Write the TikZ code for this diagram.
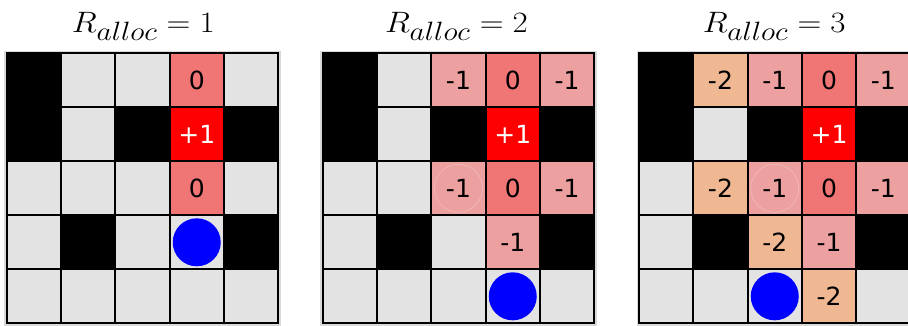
\RequirePackage{fix-cm}
\documentclass[tikz,border=0pt]{standalone}
\usepackage{fontspec}
\newfontfamily\numfont{DejaVu Sans}
\definecolor{cellgray}{HTML}{E3E3E3}
\definecolor{framegray}{HTML}{D9D9D9}
\definecolor{czero}{HTML}{F07575}
\definecolor{cmone}{HTML}{ECA0A0}
\definecolor{cmtwo}{HTML}{EFB892}
\definecolor{ghostc}{HTML}{F4BCBC}
\definecolor{agentblue}{HTML}{0000FF}
\def\txtw{}\def\txtf{}\def\txta{}
\def\txtg{+1}\def\txtz{0}\def\txtm{-1}\def\txtt{-2}\def\txth{-1}
\newcommand\alloctitle[1]{\scalebox{1.12}[1]{$R_{\mbox{\fontsize{26.5}{27}\selectfont$alloc$}}=#1$}}
\tikzset{
  cellbox/.style={rectangle, minimum width=54.3pt, minimum height=54pt, inner sep=0pt, outer sep=0pt,
    font=\numfont\fontsize{25}{25}\selectfont},
  cellw/.style={cellbox, fill=black},
  cellf/.style={cellbox, fill=cellgray},
  cellg/.style={cellbox, fill=red, text=white},
  cellz/.style={cellbox, fill=czero},
  cellm/.style={cellbox, fill=cmone},
  cellt/.style={cellbox, fill=cmtwo},
  cella/.style={cellf, path picture={\fill[agentblue] (path picture bounding box.center) circle (24pt);}},
  cellh/.style={cellm, path picture={\draw[ghostc, line width=0.6pt] (path picture bounding box.center) circle (24pt);}},
  gridline/.style={line width=2pt, black, line cap=rect},
  frameback/.style={fill=framegray},
  titletext/.style={font=\fontsize{29.5}{33}\selectfont, anchor=base, inner sep=0pt}
}
\newcommand\mygrid[3]{%
  \fill[frameback] ({#2-2.5},51) rectangle ({#2+271.5+2.5},325.8);
  \foreach \r/\row in {#3} {
    \foreach \t [count=\c from 0] in \row {
      \node[cell\t] (g#1-\r-\c) at ({#2+(\c+0.5)*54.3},{53.3+(\r+0.5)*54}) {\csname txt\t\endcsname};
    }
  }
  \foreach \i in {0,...,5} {
    \draw[gridline] ({#2+\i*54.3},53.3) -- ({#2+\i*54.3},323.3);
    \draw[gridline] (#2,{53.3+\i*54}) -- ({#2+271.5},{53.3+\i*54});
  }
}
\begin{document}
\begin{tikzpicture}[x=1pt,y=-1pt]
\useasboundingbox (0,0) rectangle (908,326);
\clip (0,0) rectangle (908,326);
\fill[white] (0,0) rectangle (908,326);
\node[titletext] (t1) at (143.3,32.3) {\alloctitle{1}};
\node[titletext] (t2) at (456.5,32.3) {\alloctitle{2}};
\node[titletext] (t3) at (774.2,32.3) {\alloctitle{3}};
\mygrid{1}{6.7}{0/{w,f,f,z,f},1/{w,f,w,g,w},2/{f,f,f,z,f},3/{f,w,f,a,w},4/{f,f,f,f,f}}
\mygrid{2}{322.7}{0/{w,f,m,z,m},1/{w,f,w,g,w},2/{f,f,h,z,m},3/{f,w,f,m,w},4/{f,f,f,a,f}}
\mygrid{3}{639}{0/{w,t,m,z,m},1/{w,f,w,g,w},2/{f,t,h,z,m},3/{f,w,t,m,w},4/{f,f,a,t,f}}
\end{tikzpicture}
\end{document}
